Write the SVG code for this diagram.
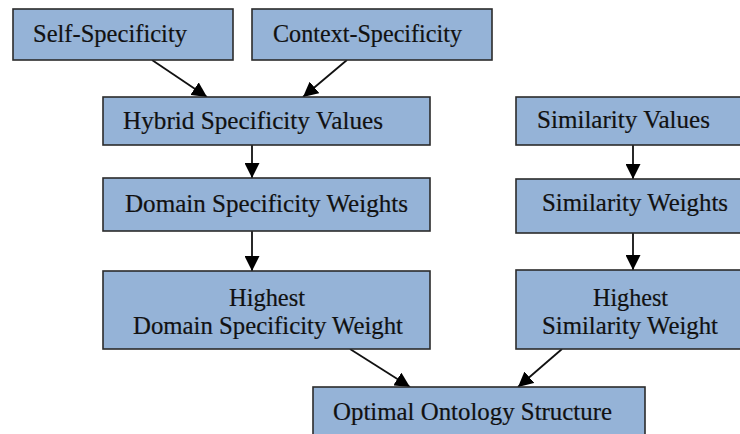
<svg xmlns="http://www.w3.org/2000/svg" width="740" height="434" viewBox="0 0 740 434">
  <style>
    .box { fill: #95b3d7; stroke: #2b2b2b; stroke-width: 1.6; }
    .lbl { font-family: "Liberation Serif", "Times New Roman", serif; font-size: 25.5px; fill: #111; stroke: #111; stroke-width: 0.2; }
    .edge { stroke: #111; stroke-width: 1.8; fill: none; marker-end: url(#arrow); }
  </style>
  <defs>
    <marker id="arrow" markerUnits="userSpaceOnUse" markerWidth="15" markerHeight="15" viewBox="0 0 15 15" refX="15" refY="7.5" orient="auto">
      <path d="M0,0 L15,7.5 L0,15 Z" fill="#000"/>
    </marker>
  </defs>
  <rect width="740" height="434" fill="#fff"/>

  <g id="connectors">
    <line class="edge" x1="152" y1="60" x2="207" y2="97"/>
    <line class="edge" x1="347" y1="60" x2="303" y2="97"/>
    <line class="edge" x1="252" y1="145" x2="252" y2="178"/>
    <line class="edge" x1="252" y1="231" x2="252" y2="271"/>
    <line class="edge" x1="633" y1="145" x2="633" y2="179"/>
    <line class="edge" x1="633" y1="233" x2="633" y2="270"/>
    <line class="edge" x1="350" y1="349" x2="410" y2="387"/>
    <line class="edge" x1="562" y1="349" x2="518" y2="387"/>
  </g>

  <g id="self-specificity">
    <rect class="box" x="13" y="9" width="220" height="51"/>
    <text class="lbl" x="33" y="42" textLength="154" lengthAdjust="spacingAndGlyphs">Self-Specificity</text>
  </g>
  <g id="context-specificity">
    <rect class="box" x="252" y="9" width="240" height="51"/>
    <text class="lbl" x="273" y="42" textLength="189" lengthAdjust="spacingAndGlyphs">Context-Specificity</text>
  </g>
  <g id="hybrid-specificity-values">
    <rect class="box" x="103" y="97" width="327" height="48"/>
    <text class="lbl" x="123" y="129" textLength="260" lengthAdjust="spacingAndGlyphs">Hybrid Specificity Values</text>
  </g>
  <g id="similarity-values">
    <rect class="box" x="516" y="97" width="230" height="48"/>
    <text class="lbl" x="537" y="128" textLength="173" lengthAdjust="spacingAndGlyphs">Similarity Values</text>
  </g>
  <g id="domain-specificity-weights">
    <rect class="box" x="103" y="178" width="327" height="53"/>
    <text class="lbl" x="125" y="212" textLength="283" lengthAdjust="spacingAndGlyphs">Domain Specificity Weights</text>
  </g>
  <g id="similarity-weights">
    <rect class="box" x="516" y="179" width="230" height="54"/>
    <text class="lbl" x="542" y="211" textLength="186" lengthAdjust="spacingAndGlyphs">Similarity Weights</text>
  </g>
  <g id="highest-domain-specificity-weight">
    <rect class="box" x="103" y="271" width="327" height="78"/>
    <text class="lbl" x="229" y="306" textLength="76" lengthAdjust="spacingAndGlyphs">Highest</text>
    <text class="lbl" x="133" y="334" textLength="270" lengthAdjust="spacingAndGlyphs">Domain Specificity Weight</text>
  </g>
  <g id="highest-similarity-weight">
    <rect class="box" x="516" y="270" width="230" height="79"/>
    <text class="lbl" x="593" y="306" textLength="75" lengthAdjust="spacingAndGlyphs">Highest</text>
    <text class="lbl" x="542" y="334" textLength="176" lengthAdjust="spacingAndGlyphs">Similarity Weight</text>
  </g>
  <g id="optimal-ontology-structure">
    <rect class="box" x="313" y="387" width="332" height="60"/>
    <text class="lbl" x="333" y="420" textLength="279" lengthAdjust="spacingAndGlyphs">Optimal Ontology Structure</text>
  </g>
</svg>
